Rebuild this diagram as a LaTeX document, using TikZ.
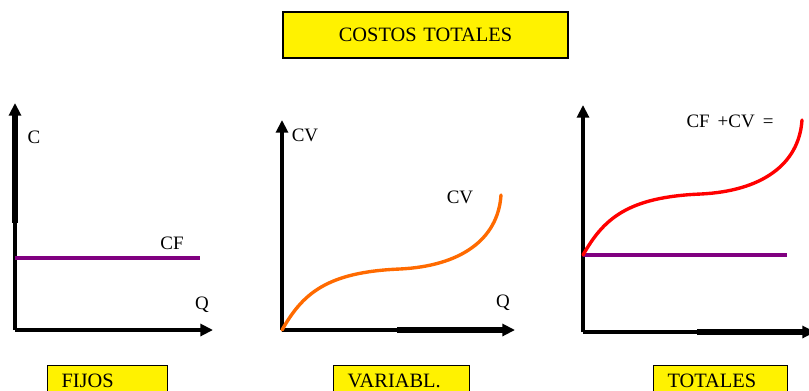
\documentclass[tikz,border=0pt]{standalone}
\usepackage{fontspec}
\setmainfont{Liberation Serif}
\usetikzlibrary{arrows.meta}
\definecolor{cfpurple}{HTML}{800080}
\definecolor{cvorange}{HTML}{FF6A00}
\definecolor{ctred}{HTML}{FF0000}

\begin{document}
\begin{tikzpicture}[x=0.025cm, y=-0.025cm,
	axis/.style={line width=2.4pt, -{Triangle[length=9pt,width=8.5pt]}},
	heavy/.style={line width=3.8pt},
	fixedline/.style={line width=2.3pt, cfpurple},
	costcurve/.style={line width=2.4pt, line cap=round},
	axlabel/.style={font=\fontsize{13.5}{15}\selectfont, inner sep=0pt},
	tagbox/.style={draw=black, line width=0.8pt, fill=yellow, inner xsep=0.35cm, inner ysep=0pt,
		font=\fontsize{14.5}{17}\selectfont}]
	\clip (0,0) rectangle (809,390);
	% title
	\node[tagbox, text width=6.425cm, minimum height=1.15cm, align=center] (title) at (425.5,35)
		{COSTOS TOTALES\hspace*{0.35cm}};
	% graph 1: fixed costs
	\coordinate (o1) at (15,330);
	\coordinate (y1) at (15,103);
	\coordinate (x1) at (213,330);
	\draw[axis] (o1) -- (y1);
	\draw[axis] (o1) -- (x1);
	\draw[heavy] (15,110) -- (15,223);
	\draw[fixedline] (15,258) -- (200,258);
	\node[axlabel] (c1) at (34,137) {C};
	\node[axlabel] (cf1) at (172,243) {CF};
	\node[axlabel] (q1) at (202,305) {Q};
	% graph 2: variable costs
	\coordinate (o2) at (282,330);
	\coordinate (y2) at (282,120);
	\coordinate (x2) at (515,330);
	\draw[axis] (o2) -- (y2);
	\draw[axis] (o2) -- (x2);
	\draw[heavy] (397,330) -- (505,330);
	\draw[costcurve, cvorange] (o2) .. controls (302,295) and (325,272) .. (400,269)
		.. controls (460,266) and (498,240) .. (501,195);
	\node[axlabel] (cv2) at (305,135) {CV};
	\node[axlabel] (cvc2) at (460,197) {CV};
	\node[axlabel] (q2) at (503,303) {Q};
	% graph 3: total costs
	\coordinate (o3) at (583,332);
	\coordinate (y3) at (583,105);
	\coordinate (x3) at (815,332);
	\coordinate (cf3) at (583,255);
	\draw[axis] (o3) -- (y3);
	\draw[axis] (o3) -- (x3);
	\draw[heavy] (697,332) -- (805,332);
	\draw[fixedline] (cf3) -- (787,255);
	\draw[costcurve, ctred] (cf3) .. controls (603,220) and (626,197) .. (701,194)
		.. controls (761,191) and (799,165) .. (802,120);
	\node[axlabel] (ct3) at (730,121) {CF\hspace{0.2cm}+CV\hspace{0.2cm}=};
	% captions
	\node[tagbox, text width=2.3cm, minimum height=0.75cm, anchor=north west, align=left] (fijos) at (47,365) {FIJOS};
	\node[tagbox, text width=2.7cm, minimum height=0.75cm, anchor=north west, align=left] (variabl) at (333,365) {VARIABL.};
	\node[tagbox, text width=2.65cm, minimum height=0.75cm, anchor=north west, align=left] (totales) at (653,365) {TOTALES};
\end{tikzpicture}
\end{document}
